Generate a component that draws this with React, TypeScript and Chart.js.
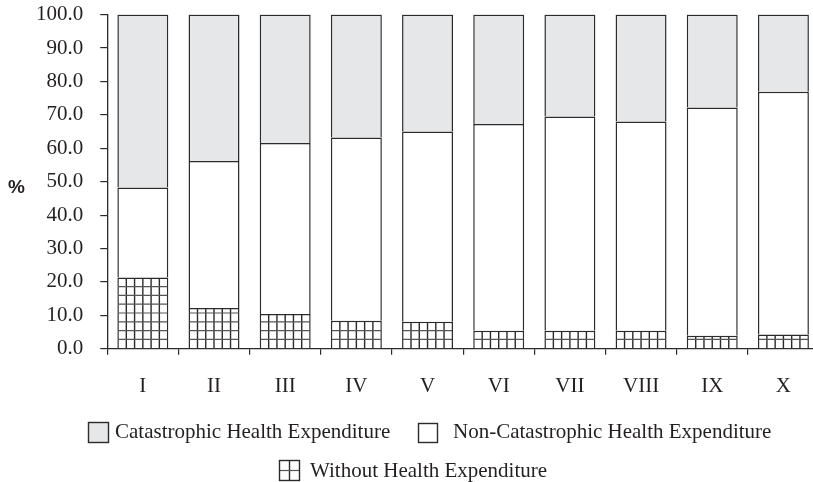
import React, { useEffect, useRef } from "react";
import { Chart, registerables } from "chart.js";

Chart.register(...registerables);

const categories = ["I", "II", "III", "IV", "V", "VI", "VII", "VIII", "IX", "X"];
const withoutHE = [21.3, 12.2, 10.4, 8.4, 8.1, 5.4, 5.4, 5.4, 3.9, 4.3];
const nonCatastrophicHE = [27.0, 44.0, 51.2, 54.8, 56.9, 61.9, 64.1, 62.6, 68.3, 72.6];
const catastrophicHE = [51.7, 43.8, 38.4, 36.8, 35.0, 32.7, 30.5, 32.0, 27.8, 23.1];
const yTicks = [0, 10, 20, 30, 40, 50, 60, 70, 80, 90, 100];
const seriesNames = {
  cat: "Catastrophic Health Expenditure",
  non: "Non-Catastrophic Health Expenditure",
  without: "Without Health Expenditure",
};

const INK = "#231f20";
const EDGE = "#2b2b2b";
const GREY = "#e6e7e8";
const SERIF = "'Liberation Serif', 'Times New Roman', serif";
const SHIFT = 15; // canvas is raised by this many px inside the frame

function drawHatch(ctx: CanvasRenderingContext2D, l: number, t: number, r: number, b: number, cols: number, rowStep: number) {
  ctx.save();
  ctx.beginPath();
  ctx.rect(l, t, r - l, b - t);
  ctx.clip();
  ctx.lineWidth = 1.4;
  ctx.strokeStyle = "#2b2b2b";
  const w = (r - l) / cols;
  for (let k = 1; k < cols; k++) {
    const x = l + k * w;
    ctx.beginPath();
    ctx.moveTo(x, t);
    ctx.lineTo(x, b);
    ctx.stroke();
  }
  ctx.lineWidth = 1.2;
  ctx.strokeStyle = "#555555";
  for (let y = b - rowStep; y > t + 0.5; y -= rowStep) {
    ctx.beginPath();
    ctx.moveTo(l, y);
    ctx.lineTo(r, y);
    ctx.stroke();
  }
  ctx.restore();
}

const hatchPlugin = {
  id: "hatch",
  afterDatasetsDraw(chart: any) {
    const ctx = chart.ctx as CanvasRenderingContext2D;
    const meta = chart.getDatasetMeta(0);
    meta.data.forEach((el: any) => {
      const p = el.getProps(["x", "y", "base", "width"], true);
      const l = p.x - p.width / 2;
      const r = p.x + p.width / 2;
      drawHatch(ctx, l + 0.7, p.y + 0.7, r - 0.7, p.base, 6, 8.8);
    });
  },
};

const decorPlugin = {
  id: "decor",
  afterDraw(chart: any) {
    const ctx = chart.ctx as CanvasRenderingContext2D;
    const area = chart.chartArea;
    ctx.save();
    // y-axis unit label
    ctx.fillStyle = INK;
    ctx.font = "bold 19px 'Liberation Sans', Arial, sans-serif";
    ctx.textAlign = "center";
    ctx.textBaseline = "middle";
    ctx.fillText("%", 16.5, (area.top + area.bottom) / 2 + 6);

    // legend
    ctx.font = `21px ${SERIF}`;
    ctx.textAlign = "left";
    const items = [
      { name: seriesNames.cat, bx: 88, by: 422, s: 21, tx: 115, ty: 432.5, kind: "cat" },
      { name: seriesNames.non, bx: 418, by: 423, s: 20, tx: 453, ty: 432.5, kind: "non" },
      { name: seriesNames.without, bx: 279, by: 460, s: 21, tx: 310, ty: 471, kind: "without" },
    ];
    items.forEach((it) => {
      const s = it.s;
      const by = it.by + SHIFT;
      ctx.fillStyle = it.kind === "cat" ? GREY : "#ffffff";
      ctx.fillRect(it.bx, by, s, s);
      if (it.kind === "without") drawHatch(ctx, it.bx, by, it.bx + s, by + s, 2, s / 2);
      ctx.strokeStyle = EDGE;
      ctx.lineWidth = 1.4;
      ctx.strokeRect(it.bx + 0.5, by + 0.5, s - 1, s - 1);
      ctx.fillStyle = INK;
      ctx.textBaseline = "middle";
      ctx.fillText(it.name, it.tx, it.ty + SHIFT);
    });
    ctx.restore();
  },
};

export default function App() {
  const ref = useRef<HTMLCanvasElement | null>(null);

  useEffect(() => {
    if (!ref.current) return;
    const common = {
      borderColor: EDGE,
      borderWidth: 1.5,
      barPercentage: 0.716,
      categoryPercentage: 1,
    };
    const chart = new Chart(ref.current, {
      type: "bar",
      data: {
        labels: categories,
        datasets: [
          { label: seriesNames.without, data: withoutHE, backgroundColor: "#ffffff", ...common },
          { label: seriesNames.non, data: nonCatastrophicHE, backgroundColor: "#ffffff", ...common },
          { label: seriesNames.cat, data: catastrophicHE, backgroundColor: GREY, ...common },
        ],
      },
      options: {
        responsive: false,
        animation: false,
        devicePixelRatio: 1,
        layout: { padding: { left: 19, right: 11, top: 0, bottom: 64 } },
        plugins: {
          legend: { display: false },
          tooltip: { enabled: false },
        },
        scales: {
          x: {
            stacked: true,
            grid: { display: true, drawOnChartArea: false, offset: true, tickLength: 6, color: EDGE, lineWidth: 1.2 },
            border: { display: true, color: EDGE, width: 1.3 },
            ticks: { color: INK, font: { family: SERIF, size: 21 }, padding: 19 },
          },
          y: {
            stacked: true,
            min: 0,
            max: 100,
            afterBuildTicks: (scale: any) => {
              scale.ticks = yTicks.map((v) => ({ value: v }));
            },
            grid: { display: true, drawOnChartArea: false, tickLength: 7, color: EDGE, lineWidth: 1.2 },
            border: { display: true, color: EDGE, width: 1.3 },
            ticks: {
              color: INK,
              font: { family: SERIF, size: 21 },
              padding: 17,
              callback: (v: any) => Number(v).toFixed(1),
            },
          },
        },
      },
      plugins: [hatchPlugin, decorPlugin],
    });
    return () => chart.destroy();
  }, []);

  return (
    <div
      style={{
        position: "fixed",
        left: 0,
        top: 0,
        width: 813,
        height: 482,
        overflow: "hidden",
        background: "#ffffff",
      }}
    >
      <canvas
        ref={ref}
        width={830}
        height={482 + SHIFT}
        style={{ display: "block", marginTop: -SHIFT }}
      />
    </div>
  );
}
